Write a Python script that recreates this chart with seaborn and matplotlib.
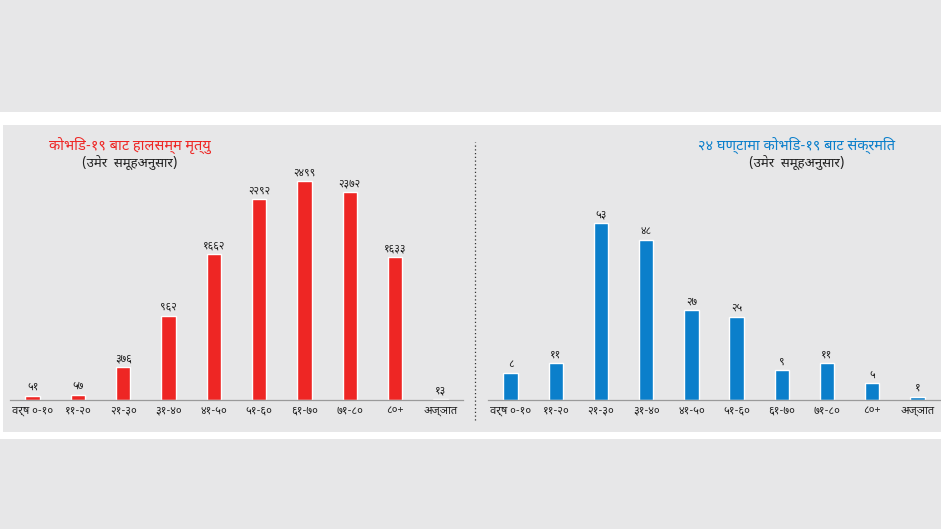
import matplotlib
matplotlib.use('Agg')
import matplotlib.pyplot as plt
import seaborn as sns
import pandas as pd
from matplotlib.patches import Rectangle

# age groups (Nepali)
age_groups = ['वर्ष ०-१०', '११-२०', '२१-३०', '३१-४०', '४१-५०', '५१-६०',
              '६१-७०', '७१-८०', '८०+', 'अज्ञात']
deaths_total = [51, 57, 376, 962, 1662, 2292, 2499, 2372, 1633, 13]
infected_24h = [8, 11, 53, 48, 27, 25, 9, 11, 5, 1]

title_left = 'कोभिड-१९ बाट हालसम्म मृत्यु'
title_right = '२४ घण्टामा कोभिड-१९ बाट संक्रमित'
subtitle = '(उमेर  समूहअनुसार)'

RED = '#ee2624'
BLUE = '#0b7fcb'
BG = '#e7e7e8'

sns.set_theme(style='white')
plt.rcParams['font.family'] = ['Noto Sans Devanagari', 'Noto Sans', 'DejaVu Sans']

DEVA = str.maketrans('0123456789', '०१२३४५६७८९')


def deva(n):
    return str(n).translate(DEVA)


W, H = 941, 529
fig = plt.figure(figsize=(W / 100, H / 100), dpi=100)
fig.patch.set_facecolor('white')

# background bands
fig.patches.append(Rectangle((0, 1 - 112 / H), 1, 112 / H, transform=fig.transFigure,
                             facecolor=BG, edgecolor='none', zorder=-10))
fig.patches.append(Rectangle((3 / W, 1 - 432 / H), 1, (432 - 125) / H, transform=fig.transFigure,
                             facecolor=BG, edgecolor='none', zorder=-10))
fig.patches.append(Rectangle((0, 0), 1, (H - 439) / H, transform=fig.transFigure,
                             facecolor=BG, edgecolor='none', zorder=-10))


def panel(x0, x1, values, color, ymax, title, tcolor, tx):
    base = 400
    top = 175
    ax = fig.add_axes([x0 / W, 1 - base / H, (x1 - x0) / W, (base - top) / H])
    ax.set_facecolor('none')
    df = pd.DataFrame({'age': age_groups, 'value': values})
    sns.barplot(data=df, x='age', y='value', color=color, width=0.32,
                saturation=1, ax=ax)
    ax.bar_label(ax.containers[0], labels=[deva(v) for v in values],
                 padding=2, fontsize=7.8, color='#222222')
    ax.set_xlim(-0.5, len(values) - 0.5)
    ax.set_ylim(0, ymax)
    ax.set_xlabel('')
    ax.set_ylabel('')
    ax.set_yticks([])
    for s in ['top', 'right', 'left']:
        ax.spines[s].set_visible(False)
    ax.spines['bottom'].set_color('#9a9a9a')
    ax.spines['bottom'].set_linewidth(0.9)
    ax.tick_params(axis='x', length=0, pad=4, labelsize=8, labelcolor='#222222')
    fig.text(tx / W, 1 - 145 / H, title, color=tcolor, fontsize=10.5,
             fontweight='bold', ha='center', va='center')
    fig.text(tx / W, 1 - 163 / H, subtitle, color='#222222', fontsize=9.5,
             ha='center', va='center')
    return ax


panel(10, 463, deaths_total, RED, 2570, title_left, RED, 130)
panel(488, 940, infected_24h, BLUE, 67.4, title_right, BLUE, 797)

# dotted divider
fig.add_artist(plt.Line2D([475 / W, 475 / W], [1 - 420 / H, 1 - 142 / H],
                          transform=fig.transFigure, color='#333333',
                          linestyle=(0, (1, 2)), linewidth=0.9))

fig.savefig('out.png', dpi=100, facecolor=fig.get_facecolor())
